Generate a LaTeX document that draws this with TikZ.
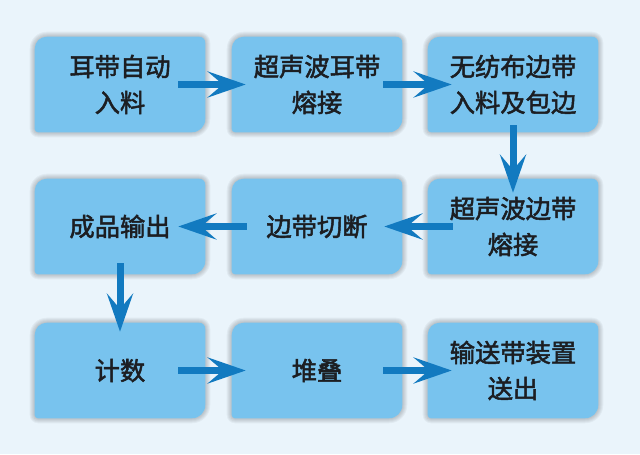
\documentclass[tikz,border=0pt]{standalone}
\usepackage{fontspec}
\newfontfamily\cjk[FakeBold=2]{Noto Sans CJK SC}
\usetikzlibrary{arrows.meta,backgrounds}

\definecolor{bgblue}{RGB}{234,244,251}
\definecolor{boxblue}{RGB}{120,195,238}
\definecolor{arrowblue}{RGB}{18,122,192}
\definecolor{textdark}{RGB}{28,30,34}

% outline of a box, grown outwards by #2 (cm)
\newcommand{\procpath}[2]{%
    ([xshift=-#2 cm,yshift=0.08cm]#1.south west) -- ([xshift=-#2 cm,yshift=-0.3cm]#1.north west)
    arc[start angle=180,end angle=90,radius=0.3cm+#2 cm]
    -- ([xshift=-0.15cm,yshift=#2 cm]#1.north east)
    arc[start angle=90,end angle=0,radius=0.15cm+#2 cm]
    -- ([xshift=#2 cm,yshift=0.33cm]#1.south east)
    arc[start angle=0,end angle=-90,radius=0.33cm+#2 cm]
    -- ([xshift=0.08cm,yshift=-#2 cm]#1.south west)
    arc[start angle=270,end angle=180,radius=0.08cm+#2 cm]
    -- cycle}

\begin{document}
\begin{tikzpicture}

        \useasboundingbox (0,0) rectangle (16,11.35);

        \begin{scope}[every node/.style={minimum width=4.25cm,minimum height=2.375cm,inner sep=0pt,
            align=center,text=textdark,font=\cjk\fontsize{18}{25.6}\selectfont}]
          \node (1) at (3.0,9.2375)    {耳带自动\\入料};
          \node (2) at (7.925,9.2375)  {超声波耳带\\熔接};
          \node (3) at (12.825,9.2375) {无纺布边带\\入料及包边};
          \node (4) at (12.825,5.6875) {超声波边带\\熔接};
          \node (5) at (7.925,5.6875)  {边带切断};
          \node (6) at (3.0,5.6875)    {成品输出};
          \node (7) at (3.0,2.0875)    {计数};
          \node (8) at (7.925,2.0875)  {堆叠};
          \node (9) at (12.825,2.0875) {输送带装置\\送出};
        \end{scope}

        \begin{scope}[on background layer]
          \fill[bgblue] (0,0) rectangle (16,11.35);
          \foreach \n in {1,...,9} {
            \foreach \d in {0.025,0.05,...,0.15}
              \fill[black,opacity=0.04] \procpath{\n}{\d};
            \fill[boxblue] \procpath{\n}{0};
          }
        \end{scope}

        \begin{scope}[every edge/.style={draw=arrowblue,line width=0.175cm,
            -{Stealth[length=0.95cm,width=0.65cm,inset=0.38cm]}}]
          \path ([xshift=-0.675cm]1.east)  edge ([xshift=0.35cm]2.west);
          \path ([xshift=-0.475cm]2.east)  edge ([xshift=0.6cm]3.west);
          \path ([yshift=0.175cm]3.south)  edge ([yshift=-0.35cm]4.north);
          \path ([xshift=0.625cm]4.west)   edge ([xshift=-0.45cm]5.east);
          \path ([xshift=0.375cm]5.west)   edge ([xshift=-0.675cm]6.east);
          \path ([yshift=0.275cm]6.south)  edge ([yshift=-0.225cm]7.north);
          \path ([xshift=-0.675cm]7.east)  edge ([xshift=0.35cm]8.west);
          \path ([xshift=-0.475cm]8.east)  edge ([xshift=0.6cm]9.west);
        \end{scope}

      \end{tikzpicture}
\end{document}
